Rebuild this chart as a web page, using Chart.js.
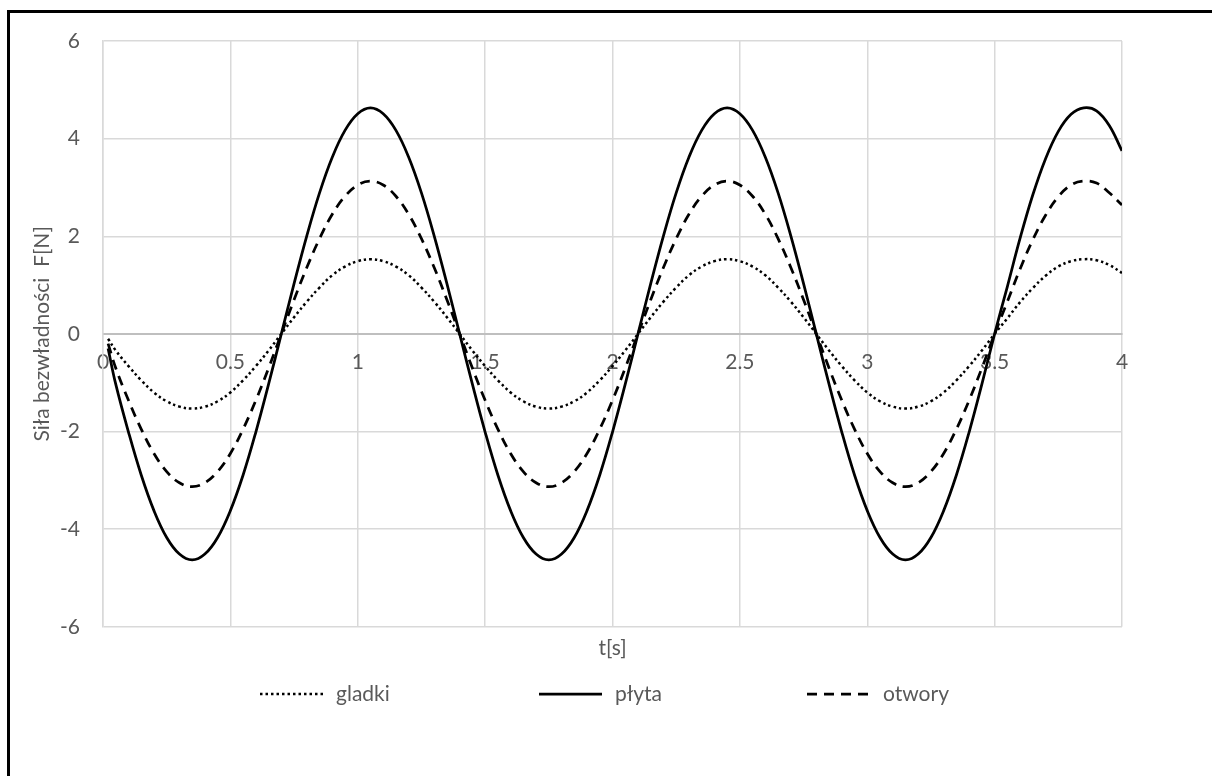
<!DOCTYPE html>
<html>
<head>
<meta charset="utf-8">
<script src="https://cdn.jsdelivr.net/npm/chart.js@4.4.1/dist/chart.umd.min.js"></script>
<style>
    html, body { margin: 0; padding: 0; background: #fff; overflow: hidden; }
    #wrap { position: relative; width: 1212px; height: 776px; overflow: hidden; }
    .edge { position: absolute; background: #000; pointer-events: none; }
    #edge-left { left: 7px; top: 10px; width: 3px; height: 766px; }
    #edge-top { left: 7px; top: 10px; width: 1205px; height: 3px; }
    #right-blank { position: absolute; left: 1190px; top: 14px; width: 22px; height: 762px; background: #fff; z-index: 5; }
</style>
</head>
<body>
<div id="wrap">
    <canvas id="chart"></canvas>
    <div class="edge" id="edge-left"></div>
    <div class="edge" id="edge-top"></div>
    <div id="right-blank"></div>
</div>
<script>
// --- Data (time in s, force in N) ---
const time = [
    0.02, 0.05, 0.1, 0.15, 0.2, 0.25, 0.3, 0.35, 0.4, 0.45, 0.5, 0.55, 0.6, 0.65, 0.7,
    0.75, 0.8, 0.85, 0.9, 0.95, 1, 1.05, 1.1, 1.15, 1.2, 1.25, 1.3, 1.35, 1.4,
    1.45, 1.5, 1.55, 1.6, 1.65, 1.7, 1.75, 1.8, 1.85, 1.9, 1.95, 2, 2.05, 2.1,
    2.15, 2.2, 2.25, 2.3, 2.35, 2.4, 2.45, 2.5, 2.55, 2.6, 2.65, 2.7, 2.75, 2.8,
    2.85, 2.9, 2.95, 3, 3.05, 3.1, 3.15, 3.2, 3.25, 3.3, 3.35, 3.4, 3.45, 3.5,
    3.55, 3.6, 3.65, 3.7, 3.75, 3.8, 3.85, 3.9, 3.95, 4
];

const gladki = [
    -0.1, -0.34, -0.66, -0.95, -1.2, -1.38, -1.49, -1.53, -1.49, -1.38, -1.2, -0.95, -0.66, -0.34, 0,
    0.34, 0.66, 0.95, 1.2, 1.38, 1.49, 1.53, 1.49, 1.38, 1.2, 0.95, 0.66, 0.34, 0,
    -0.34, -0.66, -0.95, -1.2, -1.38, -1.49, -1.53, -1.49, -1.38, -1.2, -0.95, -0.66, -0.34, 0,
    0.34, 0.66, 0.95, 1.2, 1.38, 1.49, 1.53, 1.49, 1.38, 1.2, 0.95, 0.66, 0.34, 0,
    -0.34, -0.66, -0.95, -1.2, -1.38, -1.49, -1.53, -1.49, -1.38, -1.2, -0.95, -0.66, -0.34, 0,
    0.32, 0.65, 0.94, 1.19, 1.38, 1.49, 1.53, 1.51, 1.41, 1.25
];

const plyta = [
    -0.3, -1.03, -2.01, -2.89, -3.62, -4.17, -4.51, -4.63, -4.51, -4.17, -3.62, -2.89, -2.01, -1.03, 0,
    1.03, 2.01, 2.89, 3.62, 4.17, 4.51, 4.63, 4.51, 4.17, 3.62, 2.89, 2.01, 1.03, 0,
    -1.03, -2.01, -2.89, -3.62, -4.17, -4.51, -4.63, -4.51, -4.17, -3.62, -2.89, -2.01, -1.03, 0,
    1.03, 2.01, 2.89, 3.62, 4.17, 4.51, 4.63, 4.51, 4.17, 3.62, 2.89, 2.01, 1.03, 0,
    -1.03, -2.01, -2.89, -3.62, -4.17, -4.51, -4.63, -4.51, -4.17, -3.62, -2.89, -2.01, -1.03, 0,
    0.97, 1.96, 2.85, 3.59, 4.15, 4.5, 4.63, 4.57, 4.27, 3.75
];

const otwory = [
    -0.2, -0.7, -1.36, -1.95, -2.45, -2.82, -3.05, -3.13, -3.05, -2.82, -2.45, -1.95, -1.36, -0.7, 0,
    0.7, 1.36, 1.95, 2.45, 2.82, 3.05, 3.13, 3.05, 2.82, 2.45, 1.95, 1.36, 0.7, 0,
    -0.7, -1.36, -1.95, -2.45, -2.82, -3.05, -3.13, -3.05, -2.82, -2.45, -1.95, -1.36, -0.7, 0,
    0.7, 1.36, 1.95, 2.45, 2.82, 3.05, 3.13, 3.05, 2.82, 2.45, 1.95, 1.36, 0.7, 0,
    -0.7, -1.36, -1.95, -2.45, -2.82, -3.05, -3.13, -3.05, -2.82, -2.45, -1.95, -1.36, -0.7, 0,
    0.66, 1.33, 1.93, 2.43, 2.81, 3.05, 3.13, 3.09, 2.89, 2.64
];

const seriesNames = ['gladki', 'płyta', 'otwory'];
const xTitle = 't[s]';
const yTitle = 'Siła bezwładności  F[N]';

// --- Styles ---
const TEXT = '#595959';
const GRID = '#d9d9d9';
const FONT = 'Lato, "Open Sans", sans-serif';

const toPoints = (ys) => ys.map((y, i) => ({ x: time[i], y }));

/**
 * Excel-style legend row under the axis title, drawn from the dataset styles.
 */
const bottomLegend = {
    id: 'bottomLegend',
    afterDraw(chart) {
        const ctx = chart.ctx;
        const starts = [260, 539, 807];
        const y = 694;
        ctx.save();
        chart.data.datasets.forEach((ds, i) => {
            const x0 = starts[i];
            ctx.beginPath();
            ctx.setLineDash(ds.borderDash || []);
            ctx.lineWidth = ds.borderWidth;
            ctx.strokeStyle = ds.borderColor;
            ctx.moveTo(x0, y);
            ctx.lineTo(x0 + 63, y);
            ctx.stroke();
            ctx.setLineDash([]);
            ctx.fillStyle = TEXT;
            ctx.font = '21px ' + FONT;
            ctx.textBaseline = 'middle';
            ctx.textAlign = 'left';
            ctx.fillText(ds.label, x0 + 76, y);
        });
        ctx.restore();
    }
};

const ctx = document.getElementById('chart').getContext('2d');
new Chart(ctx, {
    type: 'line',
    data: {
        datasets: [
            { label: seriesNames[0], data: toPoints(gladki), borderColor: '#000', borderWidth: 2.5, borderDash: [2.5, 3] },
            { label: seriesNames[1], data: toPoints(plyta), borderColor: '#000', borderWidth: 2.75, borderDash: [] },
            { label: seriesNames[2], data: toPoints(otwory), borderColor: '#000', borderWidth: 2.75, borderDash: [10, 7] }
        ]
    },
    options: {
        responsive: true,
        maintainAspectRatio: false,
        animation: false,
        devicePixelRatio: 1,
        elements: {
            point: { radius: 0 },
            line: { tension: 0.4, fill: false }
        },
        layout: { padding: { left: 0, top: 41, right: 90, bottom: 115 } },
        font: { family: FONT },
        scales: {
            x: {
                type: 'linear',
                position: { y: 0 },
                min: 0,
                max: 4,
                ticks: {
                    stepSize: 0.5, color: TEXT, font: { family: FONT, size: 21 }, padding: 16, maxRotation: 0,
                    callback: (value) => String(value)
                },
                grid: { color: GRID, lineWidth: 1.5, drawTicks: false },
                border: { color: '#bfbfbf', width: 2 }
            },
            xt: {
                type: 'linear',
                position: 'bottom',
                min: 0,
                max: 4,
                ticks: { display: false },
                grid: { display: false, drawTicks: false },
                border: { display: false },
                title: { display: true, text: xTitle, color: TEXT, font: { family: FONT, size: 21 }, padding: { top: 9, bottom: 0 } }
            },
            y: {
                min: -6,
                max: 6,
                ticks: { stepSize: 2, color: TEXT, font: { family: FONT, size: 21 }, padding: 23 },
                grid: { color: GRID, lineWidth: 1.5, drawTicks: false },
                border: { color: GRID, width: 1.5 },
                title: { display: true, text: yTitle, color: TEXT, font: { family: FONT, size: 21 }, padding: { top: 30, bottom: 0 } },
                afterFit: (scale) => { scale.width = 103; }
            }
        },
        plugins: {
            legend: { display: false },
            tooltip: { enabled: false }
        }
    },
    plugins: [bottomLegend]
});
</script>
</body>
</html>
